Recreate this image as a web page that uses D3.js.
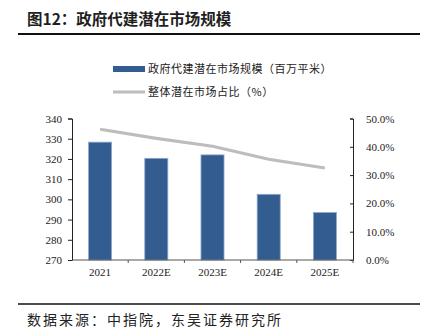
<!DOCTYPE html>
<html>
<head>
<meta charset="utf-8">
<script src="https://cdn.jsdelivr.net/npm/d3@7"></script>
<style>
  html, body { margin: 0; padding: 0; background: #fff; }
  svg { display: block; }
</style>
</head>
<body>
<svg id="chart" width="422" height="336"></svg>
<script>
// Government-commissioned construction: potential market size and share
const categories = ["2021", "2022E", "2023E", "2024E", "2025E"];
const marketSize = [328.3, 320.3, 322.0, 302.5, 293.5];   // million m²
const marketShare = [46.2, 43.0, 40.2, 35.6, 32.5];        // %
const leftTicks = [270, 280, 290, 300, 310, 320, 330, 340];
const rightTicks = [0, 10, 20, 30, 40, 50];

const svg = d3.select("#chart");
const cjk = "'Noto Sans CJK SC', sans-serif";
const serif = "'Liberation Serif', 'Times New Roman', serif";

const plot = { left: 72, right: 353, top: 118.5, bottom: 260 };

// Title and rules
svg.append("text")
  .attr("x", 27).attr("y", 25)
  .attr("font-family", cjk).attr("font-weight", "bold")
  .attr("font-size", 15.5).attr("fill", "#1f1f1f")
  .text("图12：政府代建潜在市场规模");
svg.append("line").attr("x1", 18).attr("x2", 420).attr("y1", 34).attr("y2", 34)
  .attr("stroke", "#111").attr("stroke-width", 2);
svg.append("line").attr("x1", 18).attr("x2", 420).attr("y1", 304).attr("y2", 304)
  .attr("stroke", "#111").attr("stroke-width", 1.5);
svg.append("text")
  .attr("x", 27).attr("y", 325)
  .attr("font-family", cjk).attr("font-size", 14).attr("letter-spacing", 2).attr("fill", "#222")
  .text("数据来源：中指院，东吴证券研究所");

// Scales
const x = d3.scaleBand().domain(categories).range([plot.left, plot.right]).paddingInner(0.59).paddingOuter(0.295);
const xPoint = d3.scalePoint().domain(categories).range([plot.left, plot.right]).padding(0.5);
const yL = d3.scaleLinear().domain([270, 340]).range([plot.bottom, plot.top]);
const yR = d3.scaleLinear().domain([0, 50]).range([plot.bottom, plot.top]);

// Bars
svg.append("g").selectAll("rect").data(marketSize).join("rect")
  .attr("x", (d, i) => x(categories[i]))
  .attr("width", x.bandwidth())
  .attr("y", d => yL(d))
  .attr("height", d => plot.bottom - yL(d))
  .attr("fill", "#335d91")
  .attr("stroke", "#8fa9cc").attr("stroke-width", 0.8);

// Share line
svg.append("path")
  .datum(marketShare)
  .attr("d", d3.line().x((d, i) => xPoint(categories[i])).y(d => yR(d)))
  .attr("fill", "none").attr("stroke", "#bdbdbd").attr("stroke-width", 3.2);

// Left axis
const gL = svg.append("g").attr("transform", `translate(${plot.left},0)`)
  .call(d3.axisLeft(yL).tickValues(leftTicks).tickSize(4).tickPadding(6).tickFormat(d3.format("d")));
gL.select(".domain").attr("stroke", "#222");
gL.selectAll(".tick line").attr("stroke", "#222");
gL.selectAll("text").attr("font-family", serif).attr("font-size", 11).attr("fill", "#222");

// Right axis
const gR = svg.append("g").attr("transform", `translate(${plot.right},0)`)
  .call(d3.axisRight(yR).tickValues(rightTicks).tickSize(-3).tickPadding(13).tickFormat(d => d.toFixed(1) + "%"));
gR.select(".domain").attr("stroke", "#222");
gR.selectAll(".tick line").attr("stroke", "#222");
gR.selectAll("text").attr("font-family", serif).attr("font-size", 11).attr("fill", "#222");

// Bottom axis
const gX = svg.append("g").attr("transform", `translate(0,${plot.bottom})`)
  .call(d3.axisBottom(x).tickSize(0).tickPadding(8));
gX.select(".domain").attr("stroke", "#555").attr("d", `M${plot.left},0H${plot.right}`);
gX.selectAll("text").attr("font-family", serif).attr("font-size", 11).attr("fill", "#222");
const bounds = categories.map((c, i) => plot.left + (plot.right - plot.left) * (i + 1) / categories.length);
gX.append("g").selectAll("line").data(bounds).join("line")
  .attr("x1", d => d).attr("x2", d => d).attr("y1", 0).attr("y2", 3)
  .attr("stroke", "#555");

// Legend
const leg = svg.append("g");
leg.append("rect").attr("x", 113).attr("y", 66).attr("width", 32).attr("height", 6).attr("fill", "#335d91");
leg.append("text").attr("x", 148).attr("y", 73)
  .attr("font-family", cjk).attr("font-size", 11).attr("letter-spacing", 0.5).attr("fill", "#222")
  .text("政府代建潜在市场规模（百万平米）");
leg.append("line").attr("x1", 113).attr("x2", 145).attr("y1", 92).attr("y2", 92)
  .attr("stroke", "#bdbdbd").attr("stroke-width", 3);
leg.append("text").attr("x", 148).attr("y", 96)
  .attr("font-family", cjk).attr("font-size", 11).attr("letter-spacing", 0.5).attr("fill", "#222")
  .text("整体潜在市场占比（%）");
</script>
</body>
</html>
